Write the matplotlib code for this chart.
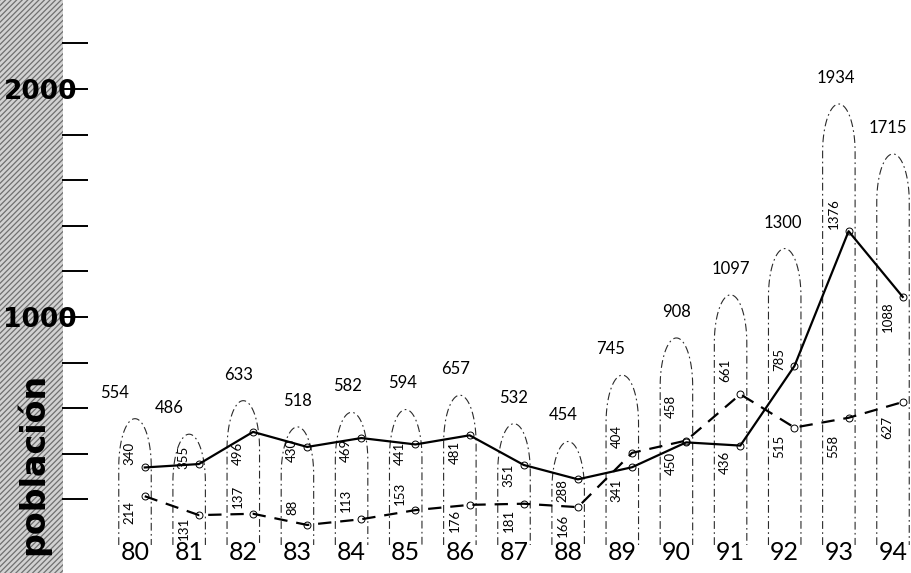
import numpy as np
import matplotlib
matplotlib.use("Agg")
import matplotlib.pyplot as plt
from matplotlib.path import Path
from matplotlib.patches import PathPatch, Rectangle

# --- data -------------------------------------------------------------
years = [80, 81, 82, 83, 84, 85, 86, 87, 88, 89, 90, 91, 92, 93, 94]
serie_a = [340, 355, 496, 430, 469, 441, 481, 351, 288, 341, 450, 436, 785, 1376, 1088]   # solid
serie_b = [214, 131, 137, 88, 113, 153, 176, 181, 166, 404, 458, 661, 515, 558, 627]      # dashed
totals = [554, 486, 633, 518, 582, 594, 657, 532, 454, 745, 908, 1097, 1300, 1934, 1715]
ytick_values = [200, 400, 600, 800, 1000, 1200, 1400, 1600, 1800, 2000, 2200]
ytick_labels = {1000: "1000", 2000: "2000"}

# vertical placement of the in-bar value labels (pixels, + = downwards)
upper_off = [-14, -7, 21, 3, 12, 9, 17, 10, 11, -16, -34, -24, -6, -18, 20]
lower_off = [16, 13, -17, -18, -19, -17, 16, 17, 18, 23, 21, 17, 19, 29, 25]
# horizontal nudge of the total labels (pixels)
total_dx = [-20, -20, -5, 0, -4, -3, -4, 0, -5, -12, 0, 0, -2, -3, -5]

plt.rcParams['font.family'] = ['Lato', 'DejaVu Sans']
plt.rcParams['hatch.linewidth'] = 0.9

W, H = 912, 573
fig = plt.figure(figsize=(W / 100, H / 100), dpi=100)

# textured band on the left edge
fig.patches.append(Rectangle((0, 0), 63 / W, 1, transform=fig.transFigure,
                             facecolor='#d2d2d2', edgecolor='#707070',
                             hatch='//////', linewidth=0, zorder=-5))

ax_left, ax_right = 88, 912
ax_bottom, ax_top = 545, 0
ax = fig.add_axes([ax_left / W, (H - ax_bottom) / H,
                   (ax_right - ax_left) / W, (ax_bottom - ax_top) / H])
ax.set_zorder(2)
ax.set_facecolor('none')
px_per_year = 54.14
ax.set_xlim(80 - (135 - ax_left) / px_per_year, 94 + (ax_right - 893) / px_per_year)
ax.set_ylim(0, 2390)
px_per_unit = (ax_bottom - ax_top) / 2390.0

for s in ax.spines.values():
    s.set_visible(False)

ax.set_yticks(ytick_values)
ax.set_yticklabels([ytick_labels.get(v, "") for v in ytick_values],
                   fontsize=19, fontweight='bold', family='DejaVu Sans')
ax.tick_params(axis='y', direction='out', length=19, width=1.4, pad=-11, colors='black')
ax.set_xticks(years)
ax.set_xticklabels([str(y) for y in years], fontsize=18)
ax.tick_params(axis='x', length=0, pad=-3)

# arch-shaped bars (total per year)
half_w = 0.30
cap_h = 48 / px_per_unit
for x, t, dx in zip(years, totals, total_dx):
    theta = np.linspace(np.pi, 0, 40)
    base = t - cap_h
    verts = [(x - half_w, 0), (x - half_w, base)]
    verts += [(x + half_w * np.cos(a), base + cap_h * np.sin(a)) for a in theta]
    verts += [(x + half_w, 0)]
    codes = [Path.MOVETO] + [Path.LINETO] * (len(verts) - 1)
    ax.add_patch(PathPatch(Path(verts, codes), fill=False, edgecolor='#2a2a2a',
                           linewidth=0.8, linestyle=(0, (7, 3, 1.5, 3)),
                           clip_on=False, zorder=1))
    ax.annotate(str(t), (x, t), xytext=(dx * 0.72, 13), textcoords='offset points',
                ha='center', va='bottom', fontsize=12, zorder=3)

xs = [y + 0.18 for y in years]
ax.plot(xs, serie_a, color='black', linewidth=1.6, zorder=4,
        marker='o', markersize=5, markerfacecolor='none', markeredgewidth=0.7)
ax.plot(xs, serie_b, color='black', linewidth=1.6, linestyle=(0, (6, 4)), zorder=4,
        marker='o', markersize=5, markerfacecolor='none', markeredgewidth=0.7)

# vertical value labels inside the bars
for i, x in enumerate(years):
    hi, lo = max(serie_a[i], serie_b[i]), min(serie_a[i], serie_b[i])
    for v, off in ((hi, upper_off[i]), (lo, lower_off[i])):
        ax.annotate(str(v), (x - 0.1, v), xytext=(0, -off * 0.72),
                    textcoords='offset points', rotation=90,
                    ha='center', va='center', fontsize=9.5, zorder=3)

fig.text(33 / W, 1 - 464 / H, "población", rotation=90, ha='center', va='center',
         fontsize=24, fontweight='bold', family='DejaVu Sans', zorder=3)

fig.savefig("out.png", dpi=100)
